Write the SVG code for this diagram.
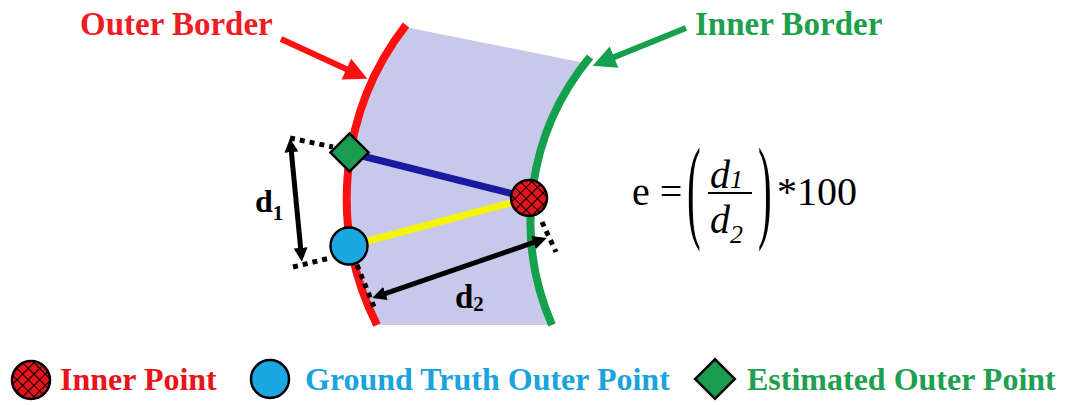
<svg xmlns="http://www.w3.org/2000/svg" width="1066" height="405" viewBox="0 0 1066 405">
<style>
.lbl{font-family:"Liberation Serif","Times New Roman",serif;font-weight:bold}
.math{font-family:"Liberation Serif","Times New Roman",serif}
.it{font-style:italic}
.dot{stroke:#000;stroke-width:5;stroke-dasharray:5 5;fill:none}
.pt{stroke:#000;stroke-width:2.5}
</style>
<defs>
<pattern id="hatch" patternUnits="userSpaceOnUse" width="8" height="8" patternTransform="rotate(45)">
<rect width="8" height="8" fill="#e8141c"/>
<path d="M0,0H8M0,0V8" stroke="#000" stroke-width="2.2"/>
</pattern>
<marker id="ahB" viewBox="0 0 10 10" refX="3" refY="5" markerWidth="14" markerHeight="14" markerUnits="userSpaceOnUse" orient="auto-start-reverse">
<path d="M0,0L10,5L0,10z" fill="#000"/>
</marker>
<marker id="ahR" viewBox="0 0 10 10" refX="3" refY="5" markerWidth="25" markerHeight="23" markerUnits="userSpaceOnUse" orient="auto">
<path d="M0,0L10,5L0,10z" fill="#ff1010"/>
</marker>
<marker id="ahG" viewBox="0 0 10 10" refX="3" refY="5" markerWidth="25" markerHeight="23" markerUnits="userSpaceOnUse" orient="auto">
<path d="M0,0L10,5L0,10z" fill="#14a04c"/>
</marker>
</defs>
<rect width="1066" height="405" fill="#fff"/>

<g id="region">
<path d="M405,27 L585,63 A258.5,258.5 0 0 0 552,325 L377,325 A282,282 0 0 1 405,27 Z" fill="#c8c9ea"/>
</g>
<g id="outer-border">
<path d="M406,25 A282,282 0 0 0 377,325" fill="none" stroke="#ff1010" stroke-width="8"/>
</g>
<g id="inner-border">
<path d="M590,57 A258.5,258.5 0 0 0 552,325" fill="none" stroke="#14a04c" stroke-width="8"/>
</g>

<g id="connectors">
<line x1="350" y1="153" x2="529" y2="198" stroke="#1a1a9e" stroke-width="7"/>
<line x1="349" y1="246" x2="529" y2="198" stroke="#f5f500" stroke-width="7"/>
<line class="dot" x1="290" y1="138" x2="333" y2="147"/>
<line class="dot" x1="293" y1="267" x2="330" y2="258"/>
<line class="dot" x1="357" y1="265" x2="374" y2="307"/>
<line class="dot" x1="542" y1="222" x2="556" y2="252"/>
<line x1="291" y1="148" x2="301" y2="252" stroke="#000" stroke-width="5" marker-start="url(#ahB)" marker-end="url(#ahB)"/>
<line x1="381.5" y1="294.8" x2="537.5" y2="241.2" stroke="#000" stroke-width="5" marker-start="url(#ahB)" marker-end="url(#ahB)"/>
<line x1="281" y1="39" x2="352.7" y2="72" stroke="#ff1010" stroke-width="6" marker-end="url(#ahR)"/>
<line x1="686" y1="28" x2="607.6" y2="59.7" stroke="#14a04c" stroke-width="6" marker-end="url(#ahG)"/>
</g>

<g id="est-point">
<rect x="336" y="139" width="27" height="27" transform="rotate(45 349.5 152.5)" fill="#1a9c50" class="pt"/>
</g>
<g id="gt-point">
<circle cx="349" cy="246" r="18.5" fill="#1ba8e2" class="pt"/>
</g>
<g id="inner-point">
<circle cx="529" cy="198" r="18" fill="url(#hatch)" class="pt"/>
</g>

<g id="labels">
<text class="lbl" x="80" y="35" font-size="33" fill="#ee1c24">Outer Border</text>
<text class="lbl" x="695" y="35" font-size="33" fill="#1ea04b">Inner Border</text>
<text class="lbl" x="255" y="212" font-size="32" fill="#000">d<tspan font-size="21" dy="8">1</tspan></text>
<text class="lbl" x="455" y="308" font-size="33" fill="#000">d<tspan font-size="21" dy="3">2</tspan></text>
</g>

<g id="formula" fill="#000">
<text class="math" x="632" y="205" font-size="40">e =</text>
<text class="math" font-size="114" transform="translate(687,227) scale(0.36,1)">(</text>
<text class="math it" x="710" y="188" font-size="40">d<tspan font-size="26">1</tspan></text>
<line x1="708" y1="193" x2="752" y2="193" stroke="#000" stroke-width="2"/>
<text class="math it" x="710" y="233" font-size="40">d<tspan font-size="26" dy="10">2</tspan></text>
<text class="math" font-size="114" transform="translate(758,227) scale(0.36,1)">)</text>
<text class="math" x="777" y="205" font-size="40">*100</text>
</g>

<g id="legend">
<circle cx="31" cy="380" r="19" fill="url(#hatch)" class="pt"/>
<text class="lbl" x="60" y="390" font-size="32" fill="#e8141c">Inner Point</text>
<circle cx="270" cy="379" r="19" fill="#1ba8e2" class="pt"/>
<text class="lbl" x="305" y="390" font-size="32" fill="#1ba3dc">Ground Truth Outer Point</text>
<rect x="701" y="365" width="28" height="28" transform="rotate(45 715 379)" fill="#1a9c50" class="pt"/>
<text class="lbl" x="747" y="390" font-size="32" fill="#1fa050">Estimated Outer Point</text>
</g>
</svg>
